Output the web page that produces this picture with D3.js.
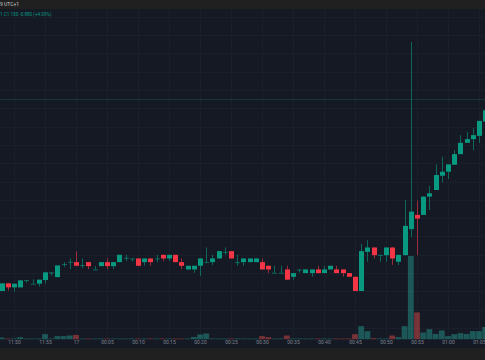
<!DOCTYPE html>
<html><head><meta charset="utf-8">
<script src="https://cdn.jsdelivr.net/npm/d3@7"></script>
<style>
html,body{margin:0;padding:0;background:#202020;}
svg{display:block;}
</style></head>
<body>
<script>
const open  = [23.51,23.72,23.61,23.61,23.81,23.71,23.71,23.81,24.02,23.89,
24.25,24.31,24.30,24.22,24.30,24.10,24.19,24.30,24.19,24.30,
24.42,24.40,24.40,24.30,24.40,24.40,24.50,24.40,24.50,24.30,
24.10,24.10,24.20,24.30,24.30,24.40,24.58,24.60,24.30,24.30,
24.30,24.30,24.30,24.20,24.01,24.01,24.10,23.90,24.10,24.00,
24.00,24.10,24.00,24.10,24.10,24.10,24.00,23.90,23.51,24.58,
24.70,24.50,24.49,24.70,24.31,24.49,25.20,25.59,25.59,26.09,
26.27,26.66,26.77,26.96,27.25,27.56,27.66,27.75,28.14];
const close = [23.72,23.61,23.71,23.80,23.81,23.71,23.82,24.02,24.02,24.21,
24.25,24.31,24.20,24.22,24.19,24.10,24.30,24.19,24.30,24.50,
24.42,24.40,24.20,24.40,24.30,24.40,24.40,24.50,24.30,24.20,
24.20,24.20,24.40,24.30,24.40,24.60,24.58,24.40,24.30,24.40,
24.40,24.40,24.10,24.10,24.01,24.01,23.82,24.00,24.10,24.10,
24.10,24.00,24.10,24.20,24.00,24.00,23.90,23.51,24.60,24.70,
24.49,24.50,24.70,24.40,24.50,25.29,25.68,25.49,26.09,26.18,
26.68,26.77,26.97,27.25,27.56,27.66,27.77,28.16,28.45];
const high  = [23.72,23.72,23.71,23.81,23.81,23.83,23.82,24.02,24.02,24.21,
24.30,24.40,24.60,24.40,24.30,24.19,24.30,24.40,24.30,24.50,
24.50,24.40,24.40,24.40,24.40,24.50,24.50,24.50,24.50,24.40,
24.20,24.20,24.40,24.70,24.50,24.60,24.70,24.60,24.50,24.40,
24.40,24.40,24.40,24.20,24.20,24.20,24.20,24.00,24.10,24.10,
24.10,24.20,24.20,24.20,24.20,24.10,24.00,23.90,24.80,24.90,
24.70,24.50,24.70,24.70,24.50,26.00,30.31,25.98,26.09,26.38,
26.97,27.18,26.97,27.36,27.77,27.86,27.96,28.16,28.45];
const low   = [23.51,23.52,23.49,23.61,23.74,23.71,23.63,23.72,23.93,23.89,
24.17,24.11,24.20,24.13,24.11,24.10,24.19,24.11,24.11,24.30,
24.33,24.31,24.20,24.20,24.20,24.30,24.32,24.33,24.30,24.11,
24.10,24.01,23.92,24.30,24.22,24.40,24.50,24.40,24.20,24.20,
24.30,24.30,24.10,24.00,24.01,24.01,23.82,23.82,24.02,24.00,
23.90,24.00,24.00,24.10,24.00,23.90,23.90,23.51,23.51,24.31,
24.40,24.31,24.31,24.22,24.22,24.49,24.98,24.49,25.59,25.72,
26.27,26.48,26.57,26.96,27.25,27.56,27.36,27.56,28.14];
const volume = [2.4,1.2,1.2,2.8,1.2,1.2,1.2,6.4,1.2,4,4,4.8,5.5,
1.2,1.2,1.2,1.2,1.2,1.2,1.2,1.2,1.2,1.2,1.2,1.2,1.2,1.2,1.2,1.2,1.2,1.2,
3,6,7.2,
1.2,1.2,1.2,1.2,1.2,1.2,1.2,1.2,
4,2.8,1.2,1.2,4.8,
1.2,1.2,1.2,1.2,1.2,1.2,1.2,1.2,1.2,1.2,
6.4,16,10,1.6,1.2,1.2,4.8,2.8,16,100,32.4,8.4,12.4,6.7,10.8,4,6.4,7.6,6.7,10,10,15];
const tickIndex  = [2,7,12,17,22,27,32,37,42,47,52,57,62,67,72,77];
const tickLabels = ["11:50","11:55","17","00:05","00:10","00:15","00:20","00:25","00:30","00:35","00:40","00:45","00:50","00:55","01:00","01:05"];
const priceGrid = d3.range(21, 31.01, 0.5);
const lastPriceLine = 28.75;
const headerText = "9 UTC+1";
const legendText = "1  C1.150  -0.880 (+4.09%)";

const W = 485, H = 360;
const UP = "#089981", DOWN = "#f23645";
const svg = d3.select("body").append("svg").attr("width", W).attr("height", H);

svg.append("rect").attr("x",0).attr("y",0).attr("width",W).attr("height",H).attr("fill","#202020");
svg.append("rect").attr("x",0).attr("y",9).attr("width",W).attr("height",339).attr("fill","#151924");

const x = d3.scaleLinear().domain([0, 78]).range([1.6, 485.2]);
const y = d3.scaleLinear().domain([21, 31]).range([382.9, 16.9]);
const yv = d3.scaleLinear().domain([0, 100]).range([339.5, 256]);

const plot = svg.append("g");
plot.append("clipPath").attr("id","clip").append("rect").attr("x",0).attr("y",9).attr("width",W).attr("height",330.5);
const g = plot.append("g").attr("clip-path","url(#clip)");

g.selectAll(".hg").data(priceGrid).join("line")
  .attr("x1",0).attr("x2",W).attr("y1",d=>Math.round(y(d))+0.5).attr("y2",d=>Math.round(y(d))+0.5)
  .attr("stroke","#1b1f2b").attr("stroke-width",1);
g.selectAll(".vg").data(tickIndex).join("line")
  .attr("y1",9).attr("y2",339.5).attr("x1",d=>Math.round(x(d))+0.5).attr("x2",d=>Math.round(x(d))+0.5)
  .attr("stroke","#1b1f2b").attr("stroke-width",1);

g.append("line").attr("x1",0).attr("x2",W)
  .attr("y1",Math.round(y(lastPriceLine))+0.5).attr("y2",Math.round(y(lastPriceLine))+0.5)
  .attr("stroke","#26a69a").attr("stroke-opacity",0.2).attr("stroke-width",1);

const idx = d3.range(open.length);
g.selectAll(".vol").data(idx).join("rect")
  .attr("x",i=>x(i)-2.9).attr("width",5.8)
  .attr("y",i=>yv(volume[i])).attr("height",i=>yv(0)-yv(volume[i]))
  .attr("fill",i=>close[i]>=open[i]?"#26a69a":"#ef5350").attr("fill-opacity",0.45);

g.selectAll(".wick").data(idx).join("line")
  .attr("x1",i=>Math.round(x(i))+0.5).attr("x2",i=>Math.round(x(i))+0.5)
  .attr("y1",i=>y(high[i])).attr("y2",i=>y(low[i]))
  .attr("stroke",i=>close[i]>=open[i]?UP:DOWN).attr("stroke-opacity",0.6).attr("stroke-width",1);

g.selectAll(".body").data(idx).join("rect")
  .attr("x",i=>Math.round(x(i))-2).attr("width",5)
  .attr("y",i=>y(Math.max(open[i],close[i])))
  .attr("height",i=>Math.max(1, Math.abs(y(open[i])-y(close[i]))))
  .attr("fill",i=>close[i]>=open[i]?UP:DOWN)
  .attr("fill-opacity",i=>open[i]===close[i]?0.6:1);

const axis = d3.axisBottom(x).tickValues(tickIndex).tickFormat((d,i)=>tickLabels[i]).tickSize(0).tickPadding(0);
const ax = svg.append("g").attr("transform","translate(0,342)").call(axis);
ax.select(".domain").remove();
ax.selectAll("text").attr("fill","#7f838e").attr("font-family","Roboto, sans-serif").attr("font-size","5px").attr("dy","0.4em");

svg.append("text").attr("x",0).attr("y",6.3).attr("fill","#c8c8c8")
  .attr("font-family","Roboto, sans-serif").attr("font-size","5px").text(headerText);
svg.append("text").attr("x",0).attr("y",15.5).attr("fill","#089981")
  .attr("font-family","Roboto, sans-serif").attr("font-size","4.6px").text(legendText);
</script>
</body></html>
